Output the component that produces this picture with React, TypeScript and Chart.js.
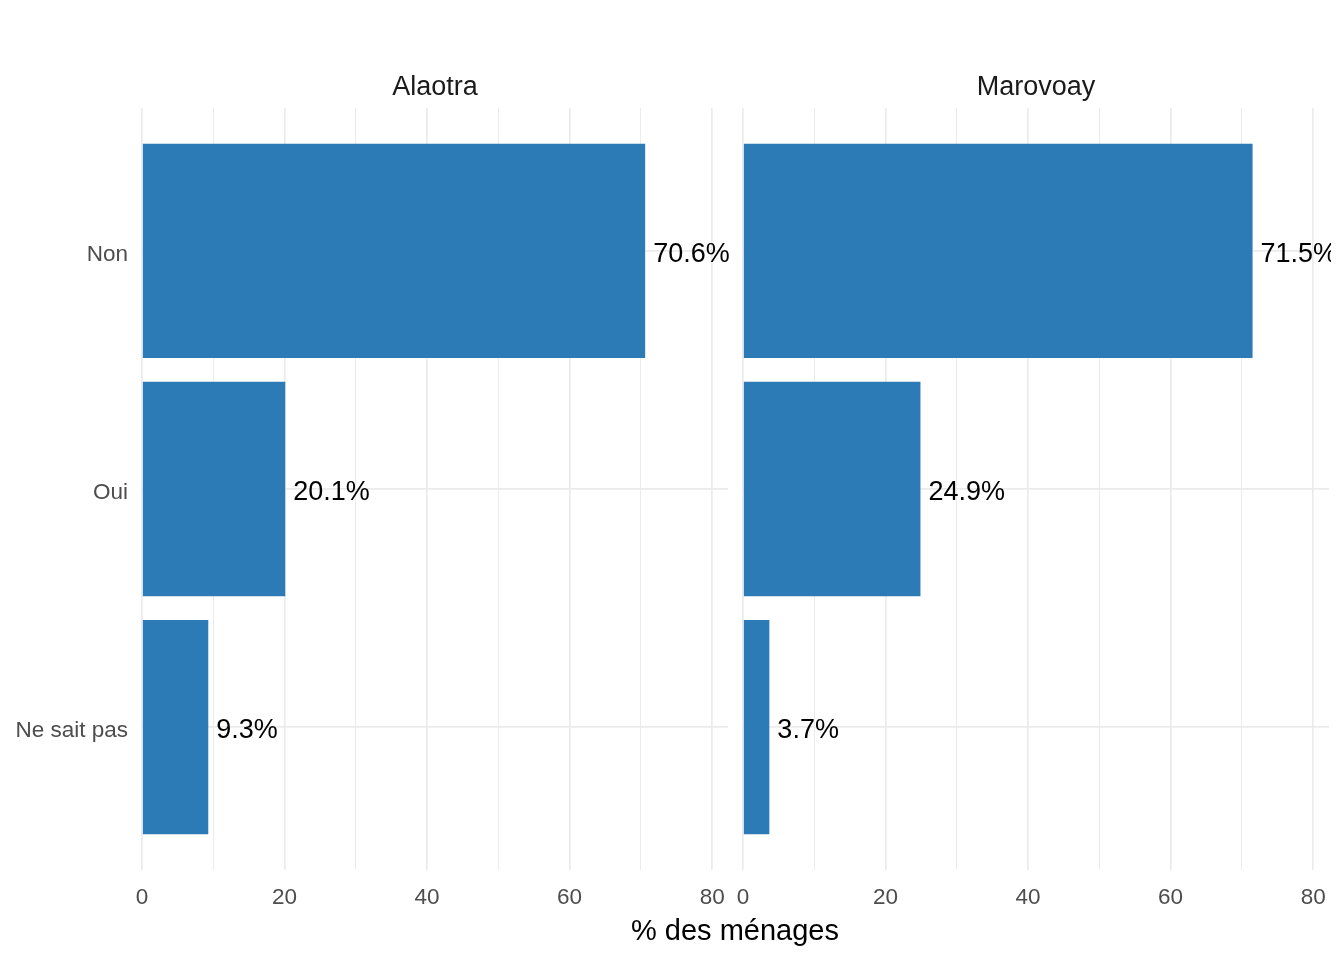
import React, { useEffect, useRef } from "react";
import { Chart, registerables } from "chart.js";

Chart.register(...registerables);

const categories = ["Non", "Oui", "Ne sait pas"];
const panels = ["Alaotra", "Marovoay"];
const alaotraValues = [70.6, 20.1, 9.3];
const marovoayValues = [71.5, 24.9, 3.7];
const xTicks = [0, 10, 20, 30, 40, 50, 60, 70, 80];
const axisTitle = "% des ménages";

const FONT = '"Liberation Sans", Arial, Helvetica, sans-serif';
const BAR_COLOR = "#2C7BB6";
const GRID_COLOR = "#EBEBEB";
const TICK_COLOR = "#4D4D4D";

const xMax = Math.max(...alaotraValues, ...marovoayValues) * 1.15;

const labelPlugin = {
  id: "barLabels",
  afterDatasetsDraw(chart: any) {
    const ctx = chart.ctx;
    const area = chart.chartArea;
    const meta = chart.getDatasetMeta(0);
    const data = chart.data.datasets[0].data;
    ctx.save();
    ctx.beginPath();
    ctx.rect(area.left, area.top - 2, area.right - area.left + 2, area.bottom - area.top + 4);
    ctx.clip();
    ctx.font = `27px ${FONT}`;
    ctx.fillStyle = "#000000";
    ctx.textAlign = "left";
    ctx.textBaseline = "middle";
    meta.data.forEach((bar: any, i: number) => {
      const v = data[i].x;
      ctx.fillText(`${v.toFixed(1)}%`, bar.x + 8, bar.y + 3.5);
    });
    ctx.restore();
  },
};

const yLabelPlugin = {
  id: "yLabels",
  afterDraw(chart: any) {
    if (!chart.options.plugins.yLabels || !chart.options.plugins.yLabels.show) return;
    const ctx = chart.ctx;
    const scale = chart.scales.y;
    ctx.save();
    ctx.font = `22.5px ${FONT}`;
    ctx.fillStyle = TICK_COLOR;
    ctx.textAlign = "right";
    ctx.textBaseline = "middle";
    scale.ticks.forEach((t: any) => {
      const label = categories[Number(t.value) - 1] ?? "";
      ctx.fillText(label, scale.right - 14, scale.getPixelForValue(t.value) + 4);
    });
    ctx.restore();
  },
};

function makeConfig(values: number[], showY: boolean, padding: any) {
  return {
    type: "bar" as const,
    data: {
      datasets: [
        {
          data: values.map((v, i) => ({ x: v, y: i + 1 })),
          backgroundColor: BAR_COLOR,
          borderWidth: 0,
          categoryPercentage: 1,
          barPercentage: 0.9,
        },
      ],
    },
    options: {
      indexAxis: "y" as const,
      animation: false as const,
      responsive: false,
      maintainAspectRatio: false,
      layout: { padding },
      plugins: {
        legend: { display: false },
        tooltip: { enabled: false },
        title: { display: false },
        yLabels: { show: showY },
      },
      scales: {
        x: {
          type: "linear" as const,
          min: 0,
          max: xMax,
          offset: false,
          afterBuildTicks: (scale: any) => {
            scale.ticks = xTicks.map((v) => ({ value: v }));
          },
          afterFit: (scale: any) => {
            scale.height = 90;
            scale.paddingLeft = 0;
            scale.paddingRight = 0;
            scale.paddingTop = 0;
            scale.paddingBottom = 0;
          },
          ticks: {
            autoSkip: false,
            maxRotation: 0,
            minRotation: 0,
            padding: 14,
            color: TICK_COLOR,
            font: { family: FONT, size: 22.5 },
            callback: (v: any) => (Number(v) % 20 === 0 ? String(v) : ""),
          },
          grid: {
            offset: false,
            color: GRID_COLOR,
            lineWidth: (c: any) => (c.tick && c.tick.value % 20 === 0 ? 1.7 : 1),
            drawTicks: false,
          },
          border: { display: false },
        },
        y: {
          type: "linear" as const,
          min: 0.4,
          max: 3.6,
          reverse: true,
          offset: false,
          afterBuildTicks: (scale: any) => {
            scale.ticks = categories.map((_, i) => ({ value: i + 1 }));
          },
          afterFit: (scale: any) => {
            scale.width = showY ? 142 : 0;
            scale.paddingLeft = 0;
            scale.paddingRight = 0;
            scale.paddingTop = 0;
            scale.paddingBottom = 0;
          },
          ticks: {
            display: false,
          },
          grid: {
            offset: false,
            color: GRID_COLOR,
            lineWidth: 1.7,
            drawTicks: false,
          },
          border: { display: false },
        },
      },
    },
    plugins: [labelPlugin, yLabelPlugin],
  };
}

function Panel({ values, showY, padding, width, left, title, titleCenter }: any) {
  const ref = useRef<HTMLCanvasElement | null>(null);
  useEffect(() => {
    if (!ref.current) return;
    const chart = new Chart(ref.current, makeConfig(values, showY, padding) as any);
    return () => chart.destroy();
  }, []);
  return (
    <>
      <canvas
        ref={ref}
        width={width}
        height={960}
        style={{ position: "absolute", left, top: 0, width, height: 960 }}
      />
      <div
        style={{
          position: "absolute",
          left: titleCenter - 200,
          width: 400,
          top: 70,
          textAlign: "center",
          fontFamily: FONT,
          fontSize: 27,
          lineHeight: "32px",
          color: "#1A1A1A",
        }}
      >
        {title}
      </div>
    </>
  );
}

export default function App() {
  return (
    <div
      style={{
        position: "absolute",
        left: 0,
        top: 0,
        width: 1344,
        height: 960,
        background: "#FFFFFF",
        overflow: "hidden",
      }}
    >
      <Panel
        values={alaotraValues}
        showY={true}
        padding={{ left: 0, right: 8, top: 108, bottom: 0 }}
        width={736}
        left={0}
        title={panels[0]}
        titleCenter={435}
      />
      <Panel
        values={marovoayValues}
        showY={false}
        padding={{ left: 7, right: 15, top: 108, bottom: 0 }}
        width={608}
        left={736}
        title={panels[1]}
        titleCenter={1036}
      />
      <div
        style={{
          position: "absolute",
          left: 535,
          width: 400,
          top: 913,
          textAlign: "center",
          fontFamily: FONT,
          fontSize: 29,
          lineHeight: "34px",
          color: "#000000",
        }}
      >
        {axisTitle}
      </div>
    </div>
  );
}
